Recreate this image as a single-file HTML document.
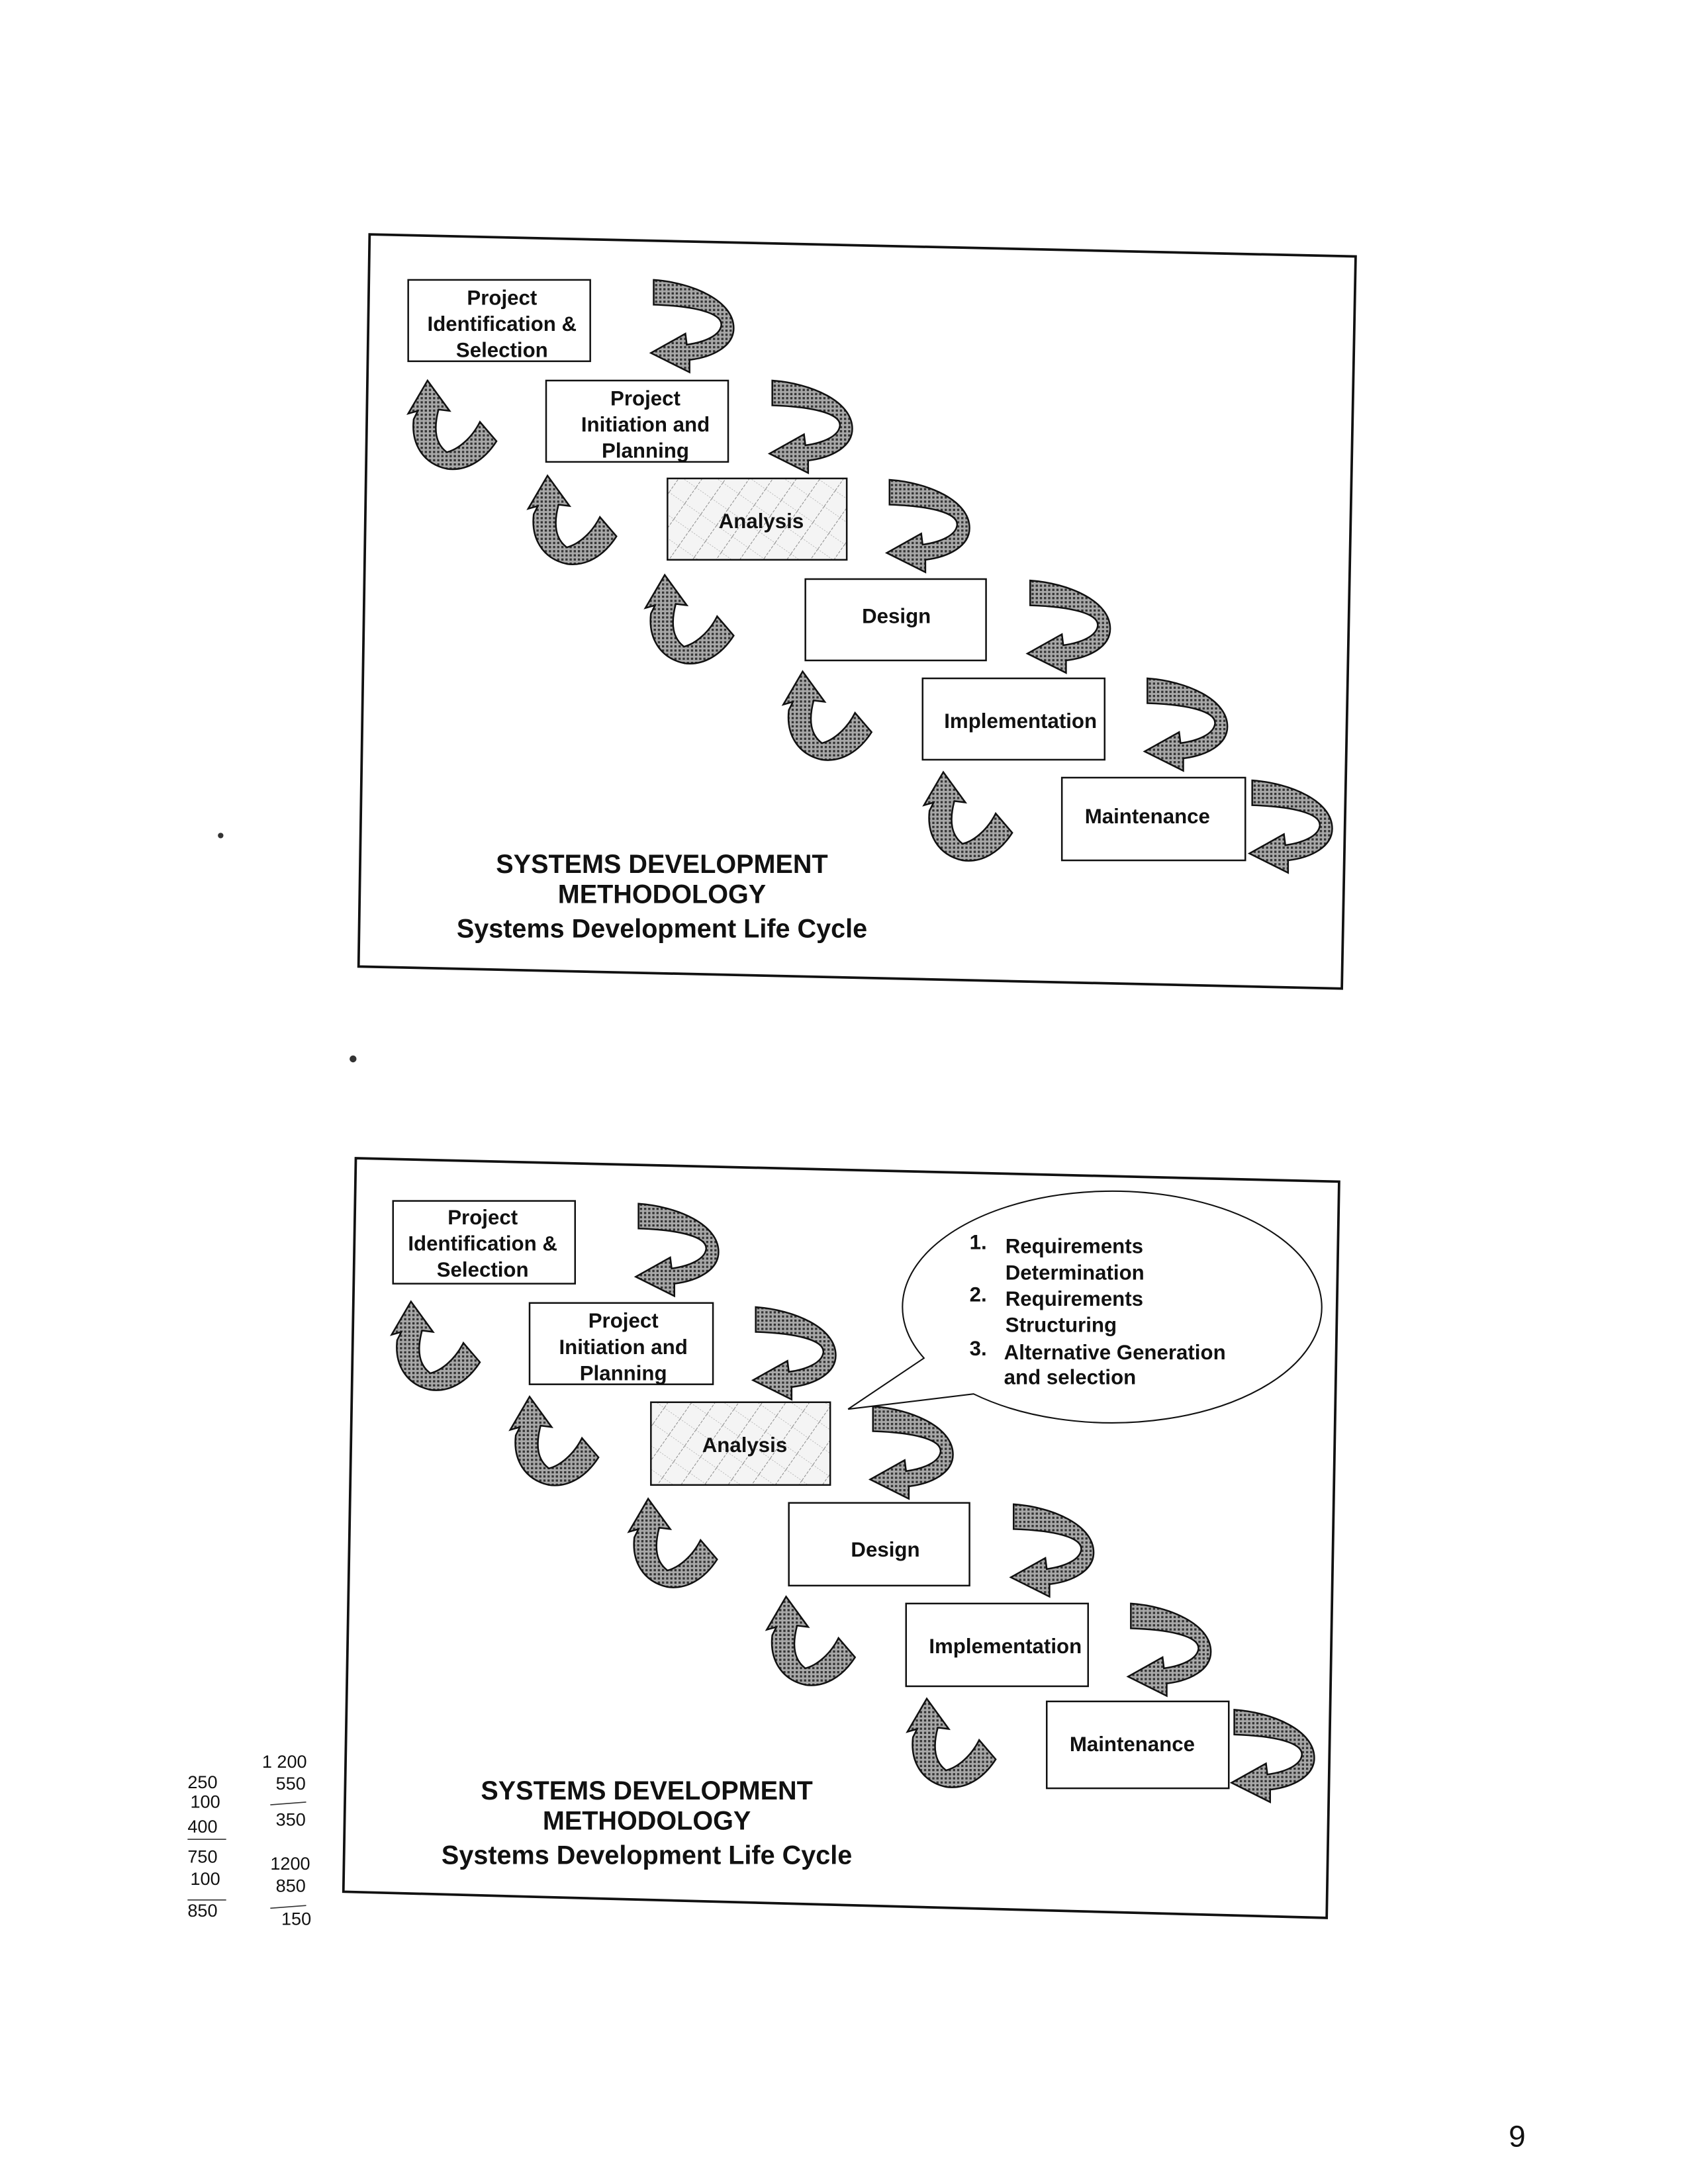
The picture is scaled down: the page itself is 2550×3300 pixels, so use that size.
<!DOCTYPE html>
<html><head><meta charset="utf-8"><style>
html,body{margin:0;padding:0;background:#fff;}
svg{display:block;}
text{font-family:"Liberation Sans",sans-serif;font-weight:bold;fill:#111;}
</style></head><body>
<svg width="2550" height="3300" viewBox="0 0 1224 1584" xmlns="http://www.w3.org/2000/svg">
<defs>
<pattern id="dots" width="3" height="3" patternUnits="userSpaceOnUse">
<rect width="3" height="3" fill="#a8a8a8"/><rect width="1.6" height="1.6" fill="#333"/>
</pattern>
<pattern id="hatch" width="14" height="14" patternUnits="userSpaceOnUse" patternTransform="rotate(35)">
<rect width="14" height="14" fill="#f4f4f4"/><line x1="0" y1="0" x2="0" y2="14" stroke="#777" stroke-width="0.8" stroke-dasharray="2,1"/><line x1="0" y1="0" x2="14" y2="0" stroke="#999" stroke-width="0.6" stroke-dasharray="1,1"/>
</pattern>
<g id="ra">
<path d="M2,0 C30,2 60,15 60,35 C60,48 45,56 28,58 L28,67 L0,53 L25,39 L26,47 C40,45 50,40 51,33 C52,24 32,19 2,18 Z" fill="url(#dots)" stroke="#111" stroke-width="1.2"/>
</g>
<g id="ua">
<path d="M14,0 L30,22 L22,21 C18,36 20,46 28,52 C36,50 46,42 52,30 L64,44 C55,58 42,66 28,64 C10,60 2,45 4,28 L7,22 L0,24 Z" fill="url(#dots)" stroke="#111" stroke-width="1.2"/>
</g>
</defs>

<!-- Slide 1 -->
<polygon points="268,170 983,186 973,717 260,701" fill="none" stroke="#111" stroke-width="1.8"/>
<g stroke="#111" stroke-width="1.2" fill="#fff">
<rect x="296" y="203" width="132" height="59"/>
<rect x="396" y="276" width="132" height="59"/>
<rect x="484" y="347" width="130" height="59" fill="url(#hatch)"/>
<rect x="584" y="420" width="131" height="59"/>
<rect x="669" y="492" width="132" height="59"/>
<rect x="770" y="564" width="133" height="60"/>
</g>
<g font-size="15" text-anchor="middle">
<text x="364" y="221">Project</text><text x="364" y="240">Identification &amp;</text><text x="364" y="259">Selection</text>
<text x="468" y="294">Project</text><text x="468" y="313">Initiation and</text><text x="468" y="332">Planning</text>
<text x="552" y="383">Analysis</text>
<text x="650" y="452">Design</text>
<text x="740" y="528">Implementation</text>
<text x="832" y="597">Maintenance</text>
</g>
<use href="#ra" x="472" y="203"/><use href="#ra" x="558" y="276"/><use href="#ra" x="643" y="348"/>
<use href="#ra" x="745" y="421"/><use href="#ra" x="830" y="492"/><use href="#ra" x="906" y="566"/>
<use href="#ua" x="296" y="276"/><use href="#ua" x="383" y="345"/><use href="#ua" x="468" y="417"/>
<use href="#ua" x="568" y="487"/><use href="#ua" x="670" y="560"/>
<g font-size="19" text-anchor="middle">
<text x="480" y="633">SYSTEMS DEVELOPMENT</text>
<text x="480" y="655">METHODOLOGY</text>
<text x="480" y="680">Systems Development Life Cycle</text>
</g>

<!-- Slide 2 -->
<polygon points="258,840 971,857 962,1391 249,1372" fill="none" stroke="#111" stroke-width="1.8"/>
<g stroke="#111" stroke-width="1.2" fill="#fff">
<rect x="285" y="871" width="132" height="60"/>
<rect x="384" y="945" width="133" height="59"/>
<rect x="472" y="1017" width="130" height="60" fill="url(#hatch)"/>
<rect x="572" y="1090" width="131" height="60"/>
<rect x="657" y="1163" width="132" height="60"/>
<rect x="759" y="1234" width="132" height="63"/>
</g>
<g font-size="15" text-anchor="middle">
<text x="350" y="888">Project</text><text x="350" y="907">Identification &amp;</text><text x="350" y="926">Selection</text>
<text x="452" y="963">Project</text><text x="452" y="982">Initiation and</text><text x="452" y="1001">Planning</text>
<text x="540" y="1053">Analysis</text>
<text x="642" y="1129">Design</text>
<text x="729" y="1199">Implementation</text>
<text x="821" y="1270">Maintenance</text>
</g>
<use href="#ra" x="461" y="873"/><use href="#ra" x="546" y="948"/><use href="#ra" x="631" y="1020"/>
<use href="#ra" x="733" y="1091"/><use href="#ra" x="818" y="1163"/><use href="#ra" x="893" y="1240"/>
<use href="#ua" x="284" y="944"/><use href="#ua" x="370" y="1013"/><use href="#ua" x="456" y="1087"/>
<use href="#ua" x="556" y="1158"/><use href="#ua" x="658" y="1232"/>
<g font-size="19" text-anchor="middle">
<text x="469" y="1305">SYSTEMS DEVELOPMENT</text>
<text x="469" y="1327">METHODOLOGY</text>
<text x="469" y="1352">Systems Development Life Cycle</text>
</g>

<!-- Bubble -->
<path d="M670,985 A152,84 0 1 1 706,1011 L615,1022 Z" fill="#fff" stroke="#111" stroke-width="1"/>
<g font-size="15">
<text x="703" y="906">1.</text><text x="729" y="909">Requirements</text>
<text x="729" y="928">Determination</text>
<text x="703" y="944">2.</text><text x="729" y="947">Requirements</text>
<text x="729" y="966">Structuring</text>
<text x="703" y="983">3.</text><text x="728" y="986">Alternative Generation</text>
<text x="728" y="1004">and selection</text>
</g>

<!-- handwriting -->
<g font-family="Liberation Serif,serif" font-size="13">
<text x="136" y="1297" style="font-weight:normal">250</text><text x="138" y="1311" style="font-weight:normal">100</text>
<text x="136" y="1329" style="font-weight:normal">400</text><text x="136" y="1351" style="font-weight:normal">750</text>
<text x="138" y="1367" style="font-weight:normal">100</text><text x="136" y="1390" style="font-weight:normal">850</text>
<text x="190" y="1282" style="font-weight:normal">1 200</text><text x="200" y="1298" style="font-weight:normal">550</text>
<text x="200" y="1324" style="font-weight:normal">350</text><text x="196" y="1356" style="font-weight:normal">1200</text>
<text x="200" y="1372" style="font-weight:normal">850</text><text x="204" y="1396" style="font-weight:normal">150</text>
</g>
<g stroke="#333" stroke-width="0.8">
<line x1="136" y1="1334" x2="164" y2="1334"/><line x1="136" y1="1378" x2="164" y2="1378"/>
<line x1="196" y1="1309" x2="222" y2="1307"/><line x1="196" y1="1384" x2="222" y2="1382"/>
</g>
<circle cx="160" cy="606" r="2" fill="#333"/>
<circle cx="256" cy="768" r="2.5" fill="#333"/>
<text x="1094" y="1557" font-family="Liberation Serif,serif" font-size="22" style="font-weight:normal">9</text>
</svg>
</body></html>
